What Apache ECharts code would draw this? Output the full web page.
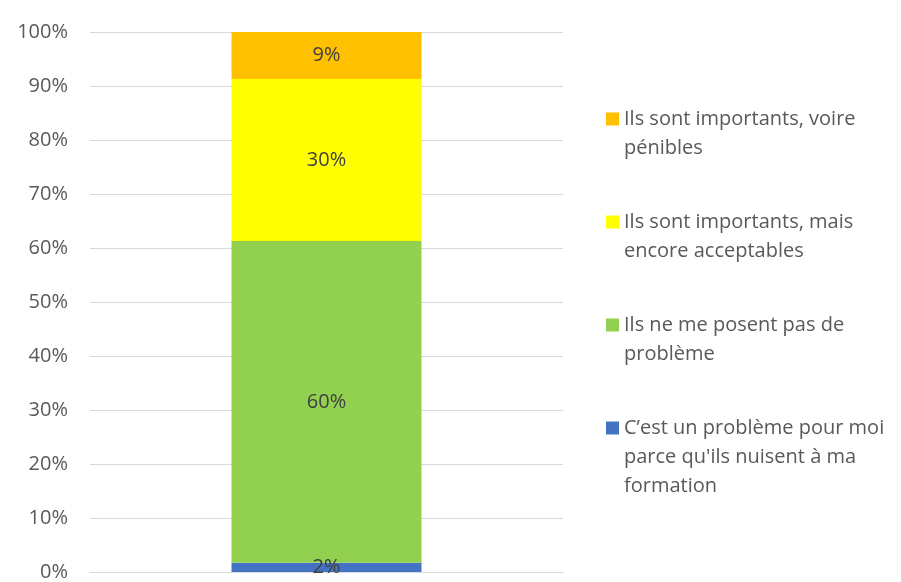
<!DOCTYPE html>
<html>
<head>
<meta charset="utf-8">
<script src="https://cdn.jsdelivr.net/npm/echarts@6/dist/echarts.min.js"></script>
<style>
  html, body { margin: 0; padding: 0; background: #fff; }
  #chart { width: 901px; height: 582px; }
</style>
</head>
<body>
<div id="chart"></div>
<script>
// Stacked shares of answers (percent), bottom to top
const categories = [''];
const seriesNames = [
  'C\u2019est un problème pour moi parce qu\'ils nuisent à ma formation',
  'Ils ne me posent pas de problème',
  'Ils sont importants, mais encore acceptables',
  'Ils sont importants, voire pénibles'
];
const legendLines = [
  ['C\u2019est un problème pour moi', 'parce qu\'ils nuisent à ma', 'formation'],
  ['Ils ne me posent pas de', 'problème'],
  ['Ils sont importants, mais', 'encore acceptables'],
  ['Ils sont importants, voire', 'pénibles']
];
const seriesValues = [
  [1.7],
  [59.6],
  [30.0],
  [8.7]
];
const colors = ['#4472C4', '#92D050', '#FFFF00', '#FFC000'];
const yTicks = [0, 10, 20, 30, 40, 50, 60, 70, 80, 90, 100];

const FONT = '"Open Sans"';
const FONT_SIZE = 20;
const LINE_H = 29;
// vertical centre of each legend entry's first line, top entry first
const legendFirstLineY = [428, 325, 222, 119];

const chart = echarts.init(document.getElementById('chart'), null, { renderer: 'canvas' });

// One legend per entry; a blank spacer line above the text keeps the
// square marker level with the first line of a wrapped label.
const legends = seriesNames.map((name, i) => {
  const n = legendLines[i].length;
  const spacer = (n - 1) * LINE_H;
  return {
    orient: 'vertical',
    left: 606,
    top: legendFirstLineY[i] - (n - 0.5) * LINE_H,
    padding: 0,
    itemWidth: 13,
    itemHeight: 13,
    selectedMode: false,
    data: [{ name: name, icon: 'rect' }],
    formatter: () => '{sp| }\n' + legendLines[i].map(t => '{t|' + t + '}').join('\n'),
    textStyle: {
      fontFamily: FONT,
      fontSize: FONT_SIZE,
      color: '#595959',
      rich: {
        sp: { height: spacer, lineHeight: spacer, fontSize: 1 },
        t: { fontFamily: FONT, fontSize: FONT_SIZE, color: '#595959', lineHeight: LINE_H, height: LINE_H }
      }
    }
  };
});

const option = {
  animation: false,
  backgroundColor: '#fff',
  color: colors,
  grid: { left: 90, right: 338, top: 32, bottom: 10, containLabel: false },
  legend: legends,
  xAxis: {
    type: 'category',
    data: categories,
    axisLine: { show: true, lineStyle: { color: '#d9d9d9', width: 1 } },
    axisTick: { show: false },
    axisLabel: { show: false }
  },
  yAxis: {
    type: 'value',
    min: yTicks[0],
    max: yTicks[yTicks.length - 1],
    interval: 10,
    axisLine: { show: false },
    axisTick: { show: false },
    splitLine: { lineStyle: { color: '#d9d9d9', width: 1 } },
    axisLabel: {
      margin: 22,
      fontFamily: FONT,
      fontSize: FONT_SIZE,
      color: '#595959',
      formatter: v => v + '%'
    }
  },
  series: seriesNames.map((name, i) => ({
    name: name,
    type: 'bar',
    stack: 'total',
    barWidth: 190,
    data: seriesValues[i],
    itemStyle: { color: colors[i] },
    label: {
      show: true,
      position: 'inside',
      fontFamily: FONT,
      fontSize: FONT_SIZE,
      color: '#404040',
      formatter: p => Math.round(p.value) + '%'
    }
  }))
};

chart.setOption(option);
</script>
</body>
</html>
